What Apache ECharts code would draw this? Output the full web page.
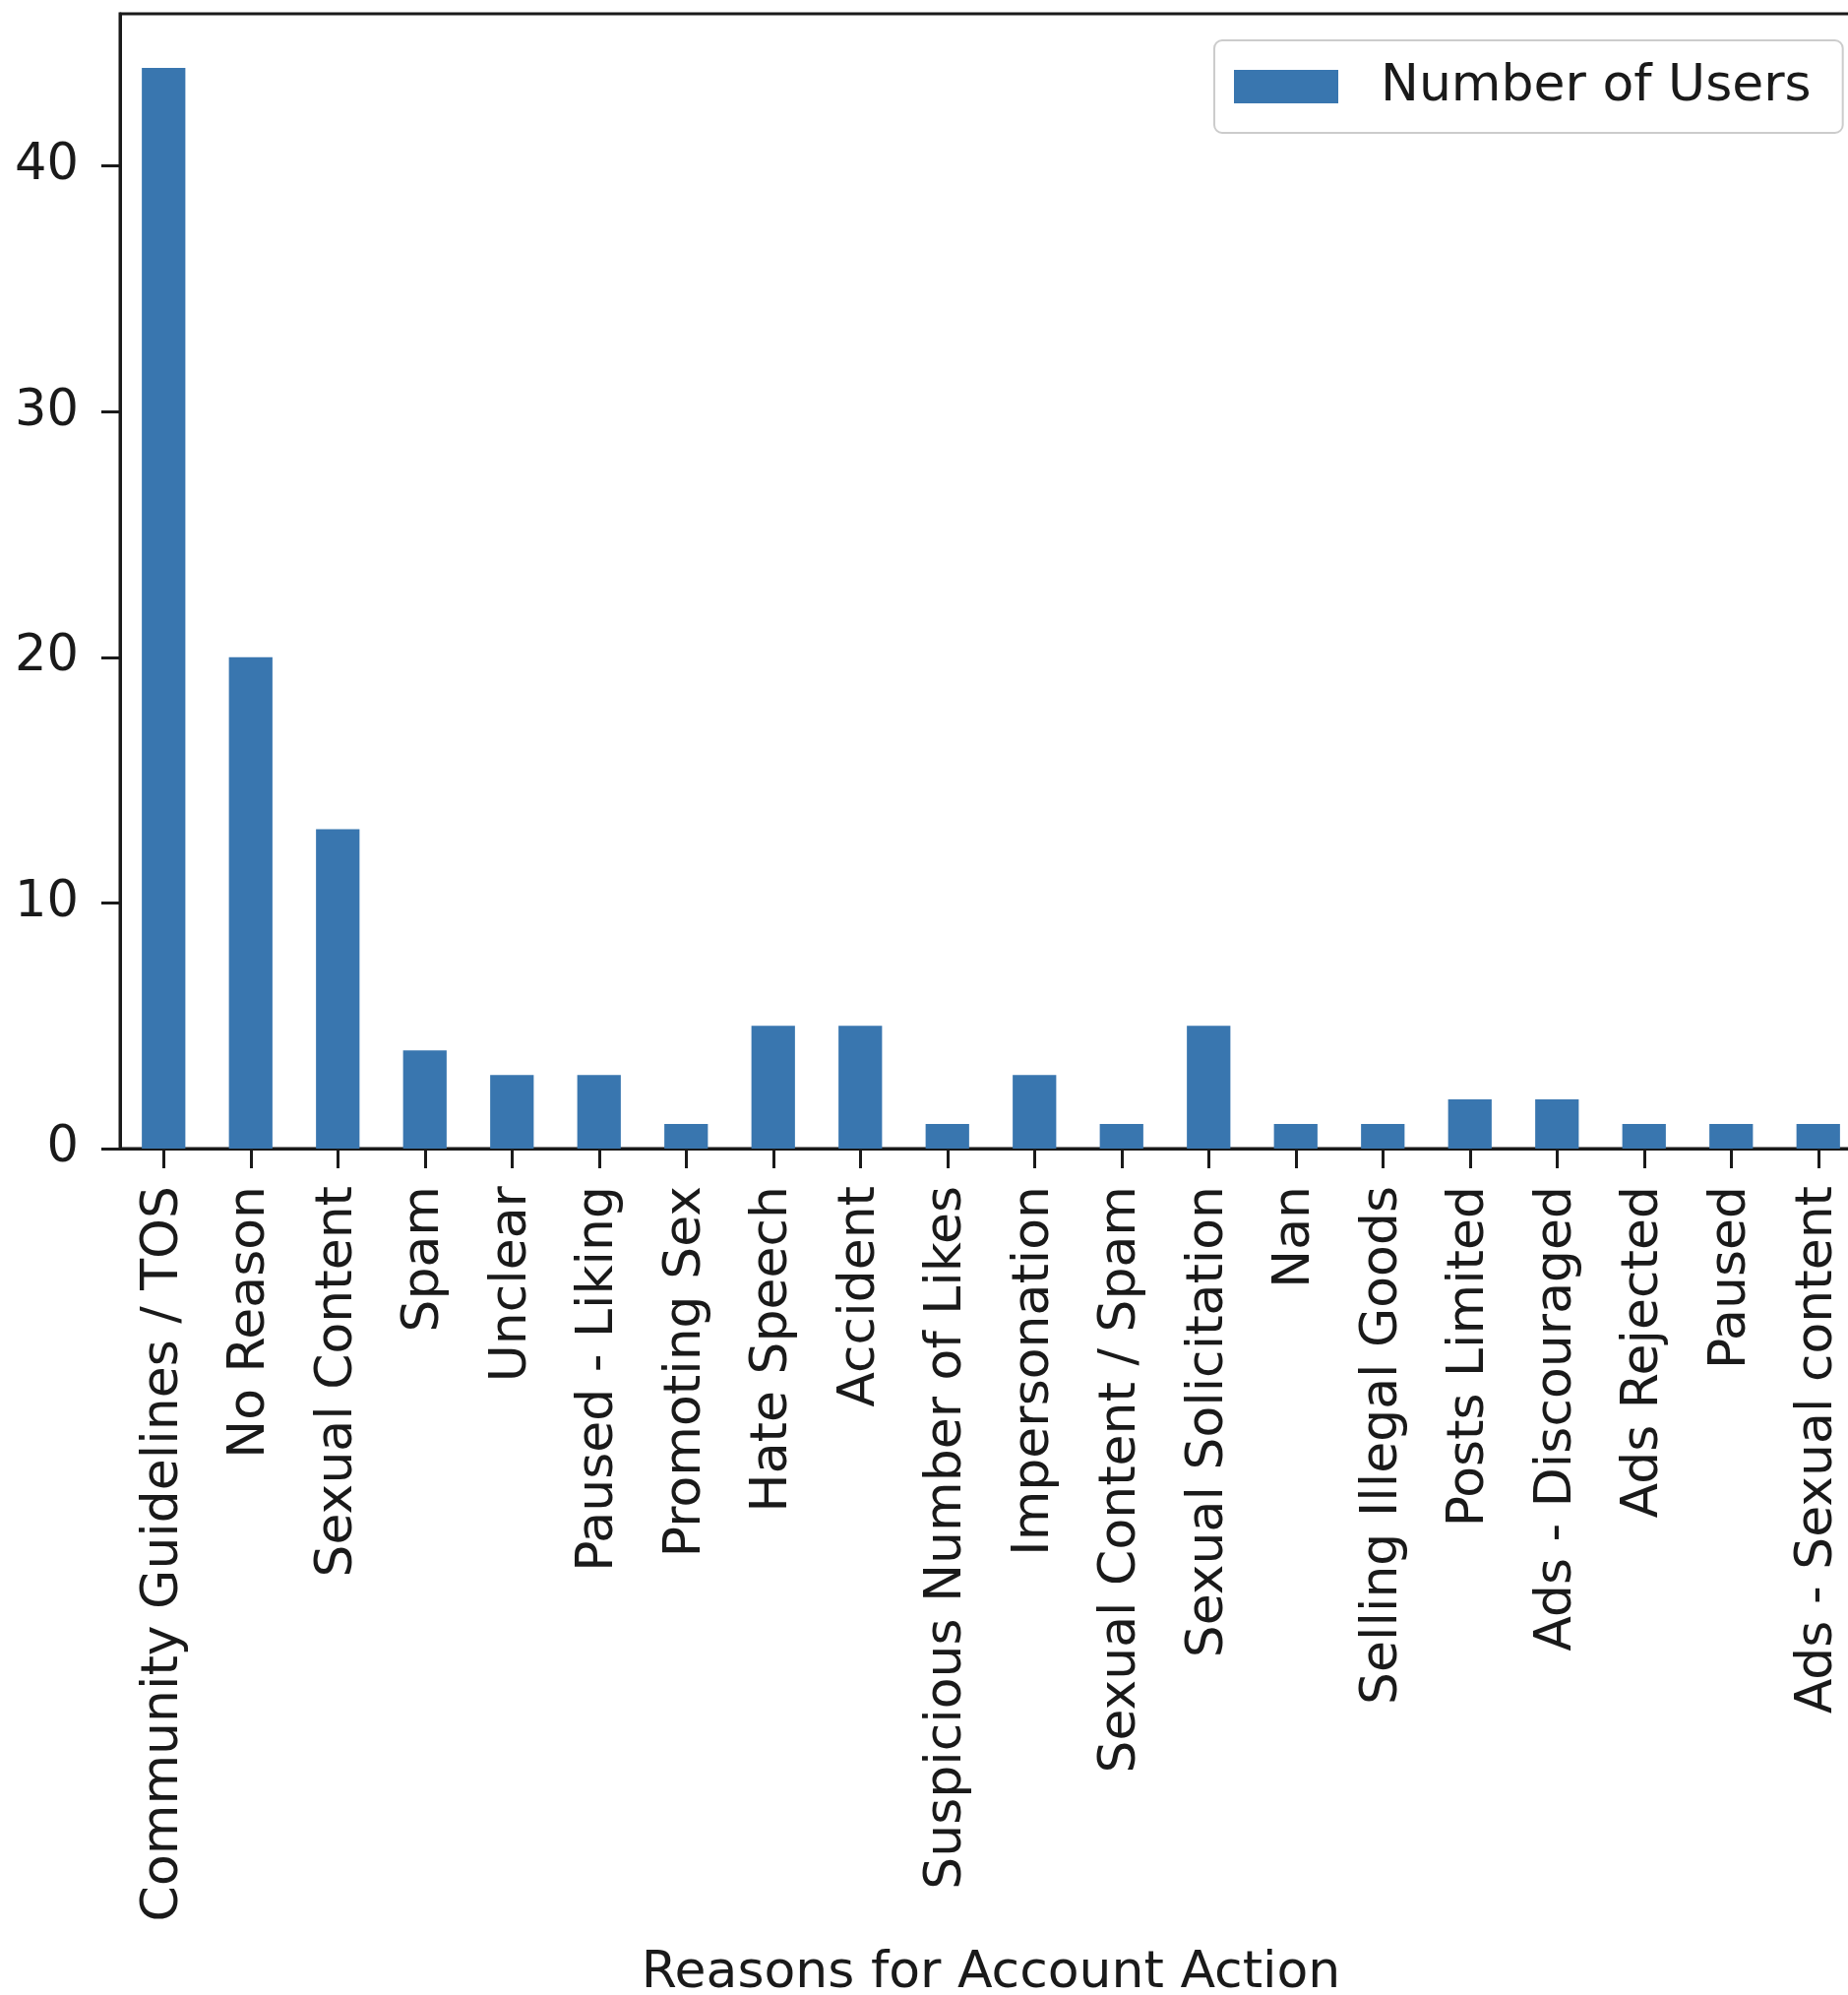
<!DOCTYPE html>
<html>
<head>
<meta charset="utf-8">
<script src="https://cdn.jsdelivr.net/npm/echarts@6/dist/echarts.min.js"></script>
<style>
html,body{margin:0;padding:0;background:#fff;}
#chart{width:1878px;height:2027px;}
</style>
</head>
<body>
<div id="chart"></div>
<script>
const categories = [
  "Community Guidelines / TOS", "No Reason", "Sexual Content", "Spam", "Unclear",
  "Paused - Liking", "Promoting Sex", "Hate Speech", "Accident", "Suspicious Number of Likes",
  "Impersonation", "Sexual Content / Spam", "Sexual Solicitation", "Nan", "Selling Illegal Goods",
  "Posts Limited", "Ads - Discouraged", "Ads Rejected", "Paused", "Ads - Sexual content"
];
const numberOfUsers = [44, 20, 13, 4, 3, 3, 1, 5, 5, 1, 3, 1, 5, 1, 1, 2, 2, 1, 1, 1];
const yTicks = [0, 10, 20, 30, 40];
const seriesName = "Number of Users";
const xAxisTitle = "Reasons for Account Action";

const FONT = "DejaVu Sans";
const TXT = "#1a1a1a";
const LINE = "#1a1a1a";
const BAR = "#3976af";

const chart = echarts.init(document.getElementById('chart'), null, {renderer: 'canvas'});
chart.setOption({
  animation: false,
  backgroundColor: '#ffffff',
  grid: {
    left: 122, top: 14, right: -14, bottom: 860,
    containLabel: false,
    outerBoundsMode: 'none',
    show: true, borderColor: LINE, borderWidth: 3, backgroundColor: 'transparent'
  },
  legend: {
    show: true,
    data: [seriesName],
    left: 1234, top: 41,
    orient: 'horizontal',
    selectedMode: false,
    itemWidth: 106, itemHeight: 34,
    icon: 'rect',
    padding: [21, 32, 21, 20],
    borderColor: '#cccccc', borderWidth: 2, borderRadius: 8,
    backgroundColor: 'rgba(255,255,255,0.8)',
    textStyle: {fontFamily: FONT, fontSize: 52, color: TXT, padding: [0, 0, 0, 38]}
  },
  xAxis: {
    type: 'category',
    data: categories,
    boundaryGap: true,
    name: xAxisTitle,
    nameLocation: 'middle',
    nameGap: 810,
    nameTextStyle: {fontFamily: FONT, fontSize: 52, color: TXT, lineHeight: 56, verticalAlign: 'top'},
    axisLine: {show: true, onZero: false, lineStyle: {color: LINE, width: 3}},
    axisTick: {show: true, alignWithLabel: true, length: 20, inside: false, lineStyle: {color: LINE, width: 3}},
    axisLabel: {interval: 0, rotate: 90, margin: 38, fontFamily: FONT, fontSize: 52, color: TXT},
    splitLine: {show: false}
  },
  yAxis: {
    type: 'value',
    min: 0, max: 46.2, interval: 10,
    axisLine: {show: true, lineStyle: {color: LINE, width: 3}},
    axisTick: {show: true, length: 19, lineStyle: {color: LINE, width: 3}, customValues: yTicks},
    axisLabel: {margin: 42, fontFamily: FONT, fontSize: 51, color: TXT, customValues: yTicks},
    splitLine: {show: false}
  },
  series: [{
    name: seriesName,
    type: 'bar',
    data: numberOfUsers,
    barWidth: '50%',
    itemStyle: {color: BAR}
  }]
});
</script>
</body>
</html>
